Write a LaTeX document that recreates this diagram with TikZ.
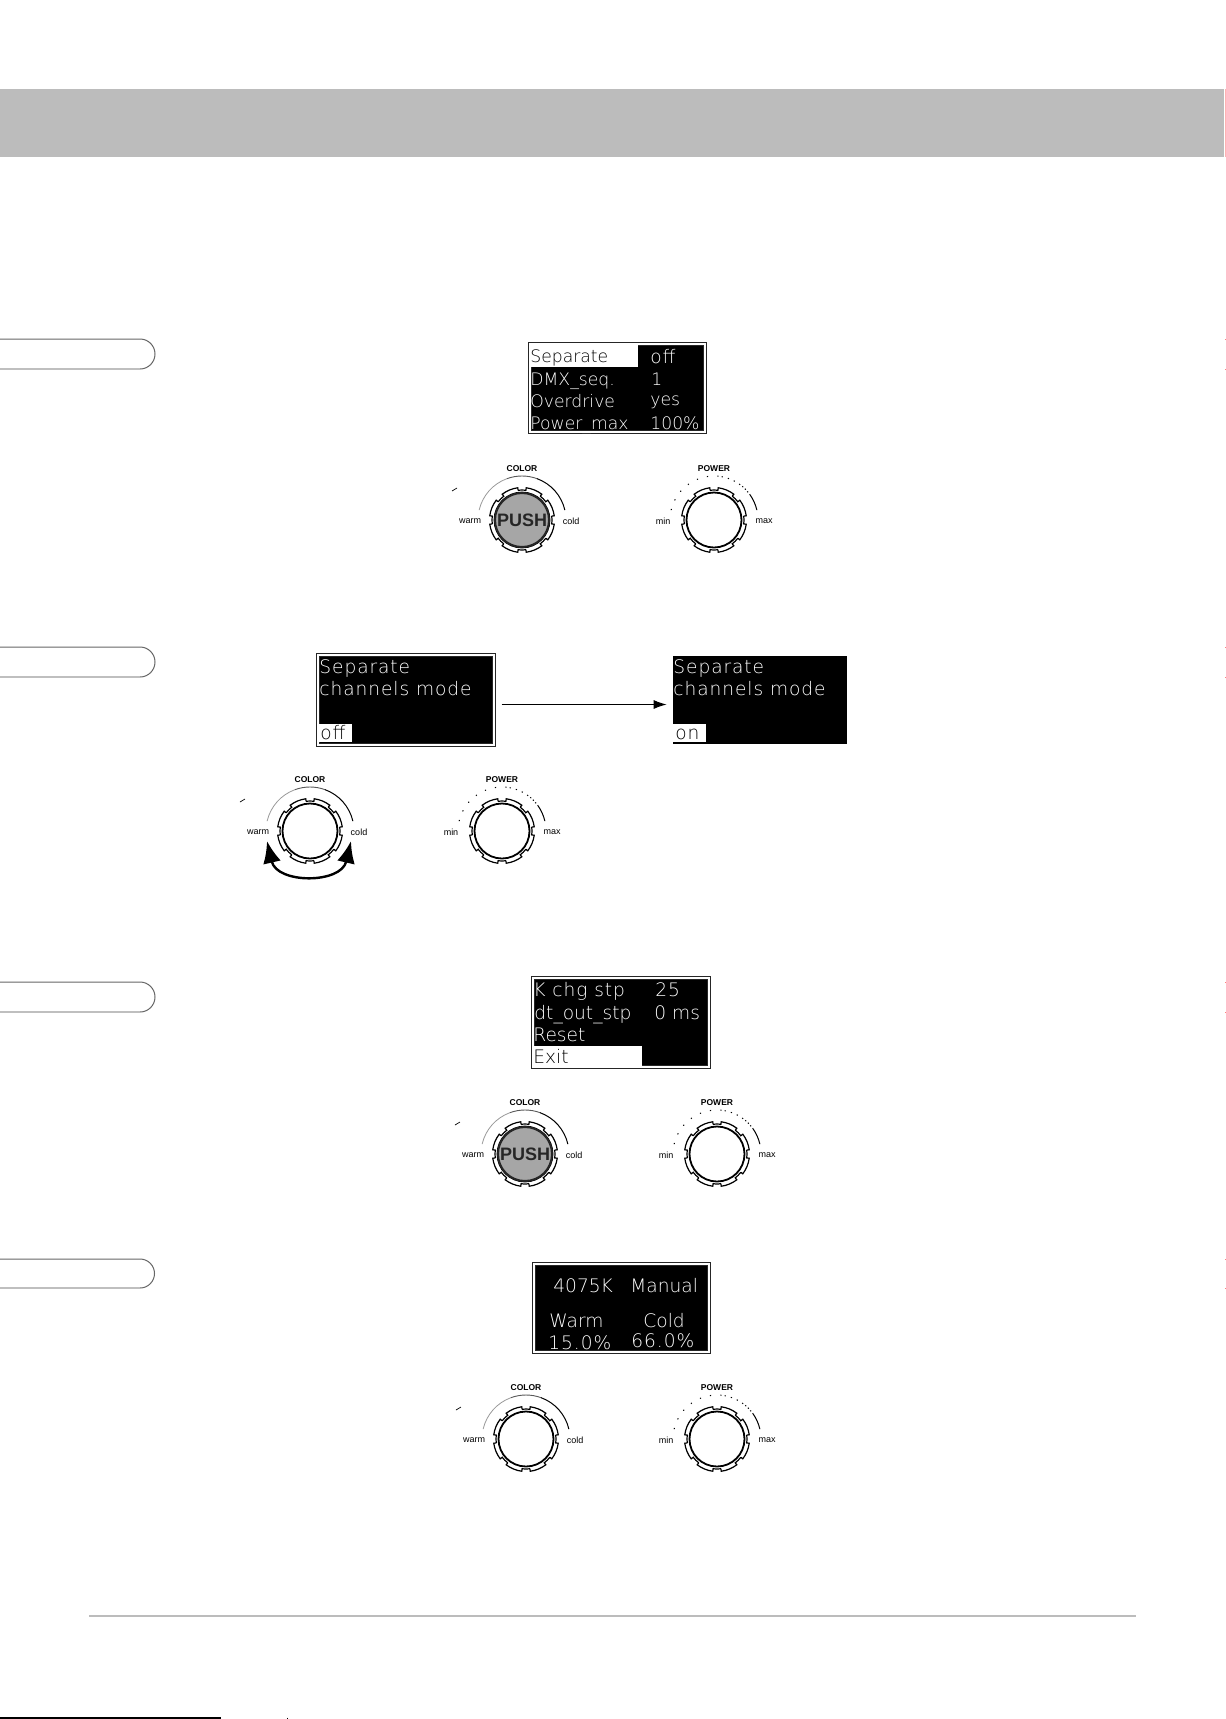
\documentclass[tikz,border=0pt]{standalone}
\usepackage{fontspec}
\usepackage{tikz}
\usetikzlibrary{arrows.meta}
\setmainfont{Liberation Sans}
\newfontfamily\lcdfont{DejaVu Sans ExtraLight}
\newfontfamily\lcdwide[LetterSpace=5]{DejaVu Sans ExtraLight}
\definecolor{band_gray}{RGB}{188,188,188}
\definecolor{cap_gray}{RGB}{166,166,166}

\begin{document}
\begin{tikzpicture}[x=0.5pt, y=0.5pt,
		screen_style/.style={draw=black!85,fill=black,double=white,double distance=0.7pt,line width=0.5pt,inner sep=0pt},
		plain_screen_style/.style={fill=black,inner sep=0pt},
		lcd_style/.style={anchor=base west,inner sep=0pt,text=white,font=\lcdfont\fontsize{9.3}{10}\selectfont},
		lcd_small_style/.style={lcd_style,font=\lcdfont\fontsize{8.6}{10}\selectfont},
		lcd_wide_style/.style={lcd_style,font=\lcdwide\fontsize{9.3}{10}\selectfont},
		lcd_dark_style/.style={lcd_style,text=black},
		title_style/.style={inner sep=0pt,font=\bfseries\fontsize{4.25}{5}\selectfont},
		scale_style/.style={inner sep=0pt,font=\fontsize{4.5}{5}\selectfont},
		push_style/.style={circle,draw=black!85,fill=cap_gray,line width=1pt,minimum size=27pt,inner sep=0pt,text=black!85,font=\bfseries\fontsize{9}{9}\selectfont},
		knob_line/.style={draw=black,line width=0.6pt},
		tab_style/.style={draw=black!60,line width=0.5pt},
		tab_low_style/.style={draw=black!25,line width=0.6pt},
		arrow_style/.style={draw=black,line width=0.45pt,-{Latex[length=6.5pt,width=4.5pt]}},
		swing_style/.style={draw=black,line width=1.2pt,{Latex[length=11pt,width=9pt]}-{Latex[length=11pt,width=9pt]}},
		knob_ring/.pic={
			\draw[knob_line,line width=0.9pt] (0,0) circle (27.5);
			\foreach \a in {22.5,67.5,...,337.5}{
				\draw[knob_line] (\a-15:30) -- (\a-15:32.5) arc[start angle=\a-15,end angle=\a+15,radius=32.5] -- (\a+15:30) arc[start angle=\a+15,end angle=\a+30,radius=30];
			}
		},
		color_knob/.pic={
			\pic {knob_ring};
			\draw[draw=black,line width=0.35pt] (-70,29) -- (-65,32);
			\draw[draw=black!40,line width=0.4pt] (167:44) arc[start angle=167,end angle=110,radius=44];
			\draw[draw=black!65,line width=0.45pt] (110:44) arc[start angle=110,end angle=70,radius=44];
			\draw[draw=black,line width=0.5pt] (70:44) arc[start angle=70,end angle=13,radius=44];
			\node[title_style] (title) at (0,51) {COLOR};
			\node[scale_style] (low) at (-52,-1) {warm};
			\node[scale_style] (high) at (49,-1) {cold};
		},
		power_knob/.pic={
			\pic {knob_ring};
			\draw[draw=black,line width=0.5pt,dash pattern=on 0.6pt off 4.6pt] (167:44) arc[start angle=167,end angle=80,radius=44];
			\draw[draw=black,line width=0.5pt,dash pattern=on 0.6pt off 2.6pt] (80:44) arc[start angle=80,end angle=50,radius=44];
			\draw[draw=black,line width=0.5pt,dash pattern=on 0.6pt off 1.2pt] (50:44) arc[start angle=50,end angle=35,radius=44];
			\draw[draw=black,line width=0.5pt] (35:44) arc[start angle=35,end angle=13,radius=44];
			\node[title_style] (title) at (0,51) {POWER};
			\node[scale_style] (low) at (-51,-1) {min};
			\node[scale_style] (high) at (50,-1) {max};
		}]

		\useasboundingbox (0,0) rectangle (1226,-1719);

		% page furniture
		\fill[band_gray] (0,-89) rectangle (1224,-157);
		\draw[draw=red!30,line width=0.5pt] (1225.5,-89) -- (1225.5,-157);
		\draw[draw=red!50,line width=0.5pt] (1225,-339) -- (1226,-339) (1225,-369) -- (1226,-369) (1225,-647) -- (1226,-647) (1225,-677) -- (1226,-677) (1225,-982) -- (1226,-982) (1225,-1012) -- (1226,-1012) (1225,-1259) -- (1226,-1259) (1225,-1288) -- (1226,-1288);
		\draw[draw=band_gray,line width=0.6pt] (89,-1616) -- (1136,-1616);
		\draw[draw=black,line width=0.75pt] (0,-1718.2) -- (221,-1718.2);
		\draw[draw=black,line width=0.5pt] (287,-1717.5) -- (287,-1719);

		% side tabs
		\draw[tab_style] (0,-339) -- (140,-339) arc[start angle=90,end angle=-90,radius=15];
		\draw[tab_low_style] (140,-369) -- (0,-369);
		\draw[tab_style] (0,-647) -- (140,-647) arc[start angle=90,end angle=-90,radius=15];
		\draw[tab_low_style] (140,-677) -- (0,-677);
		\draw[tab_style] (0,-982) -- (140,-982) arc[start angle=90,end angle=-90,radius=15];
		\draw[tab_low_style] (140,-1012) -- (0,-1012);
		\draw[tab_style] (0,-1259) -- (140,-1259) arc[start angle=90,end angle=-90,radius=14.5];
		\draw[tab_low_style] (140,-1288) -- (0,-1288);

		% first row
		\node[screen_style,minimum width=87.5pt,minimum height=44pt] (screen_a) at (617.5,-388) {};
		\fill[white] (531,-344) rectangle (638,-367);
		\node[lcd_small_style,text=black] (a_sep) at (530,-362) {Separate};
		\node[lcd_wide_style] (a_off) at (650,-363) {off};
		\node[lcd_small_style] (a_dmx) at (530,-385) {DMX\_seq.};
		\node[lcd_small_style] (a_one) at (651,-385) {1};
		\node[lcd_small_style] (a_over) at (530,-407) {Overdrive};
		\node[lcd_small_style] (a_yes) at (650,-405) {yes};
		\node[lcd_small_style] (a_pow) at (530,-429) {Power\_max};
		\node[lcd_small_style] (a_full) at (650,-429) {100\%};
		\pic (knob_a) at (522,-520) {color_knob};
		\node[push_style] (push_a) at (522,-520) {PUSH};
		\pic (knob_b) at (714,-520) {power_knob};

		% second row
		\node[screen_style,minimum width=88pt,minimum height=45pt] (screen_b) at (406,-700) {};
		\node[plain_screen_style,minimum width=87pt,minimum height=44pt] (screen_c) at (760,-700) {};
		\draw[arrow_style] ([xshift=3.5pt,yshift=-2.25pt]screen_b.east) -- ([xshift=-3pt,yshift=-2.25pt]screen_c.west);
		\node[lcd_wide_style] (b_sep) at (319,-673) {Separate};
		\node[lcd_wide_style] (b_chan) at (319,-695) {channels mode};
		\fill[white] (319,-724) rectangle (352,-742);
		\node[lcd_dark_style,font=\lcdwide\fontsize{9.3}{10}\selectfont] (b_off) at (320,-739) {off};
		\node[lcd_wide_style] (c_sep) at (673,-673) {Separate};
		\node[lcd_wide_style] (c_chan) at (673,-695) {channels mode};
		\fill[white] (673,-724) rectangle (706,-742);
		\node[lcd_dark_style,font=\lcdwide\fontsize{9.3}{10}\selectfont] (c_on) at (675,-739) {on};
		\pic (knob_c) at (310,-831) {color_knob};
		\pic (knob_d) at (502,-831) {power_knob};
		\coordinate (swing_l) at (267,-841);
		\coordinate (swing_r) at (351,-841);
		\draw[swing_style] (swing_l) .. controls (277,-884) and (341,-884) .. (swing_r);

		% third row
		\node[screen_style,minimum width=88pt,minimum height=44.5pt] (screen_d) at (621,-1022.5) {};
		\fill[white] (533,-1046) rectangle (642,-1066);
		\node[lcd_wide_style] (d_chg) at (533,-996) {K chg stp};
		\node[lcd_wide_style] (d_val) at (655,-996) {25};
		\node[lcd_style] (d_out) at (534,-1019) {dt\_out\_stp};
		\node[lcd_style] (d_ms) at (654,-1019) {0 ms};
		\node[lcd_style] (d_res) at (533,-1041) {Reset};
		\node[lcd_dark_style] (d_exit) at (533,-1063) {Exit};
		\pic (knob_e) at (525,-1154) {color_knob};
		\node[push_style] (push_e) at (525,-1154) {PUSH};
		\pic (knob_f) at (717,-1154) {power_knob};

		% fourth row
		\node[screen_style,minimum width=87.5pt,minimum height=44pt] (screen_e) at (621.5,-1308) {};
		\node[lcd_style] (e_temp) at (553,-1292) {4075K};
		\node[lcd_style] (e_man) at (630,-1292) {Manual};
		\node[lcd_style] (e_warm) at (549,-1327) {Warm};
		\node[lcd_style] (e_cold) at (643,-1327) {Cold};
		\node[lcd_wide_style] (e_wval) at (548,-1349) {15.0\%};
		\node[lcd_wide_style] (e_cval) at (631,-1347) {66.0\%};
		\pic (knob_g) at (526,-1439) {color_knob};
		\pic (knob_h) at (717,-1439) {power_knob};

\end{tikzpicture}
\end{document}
